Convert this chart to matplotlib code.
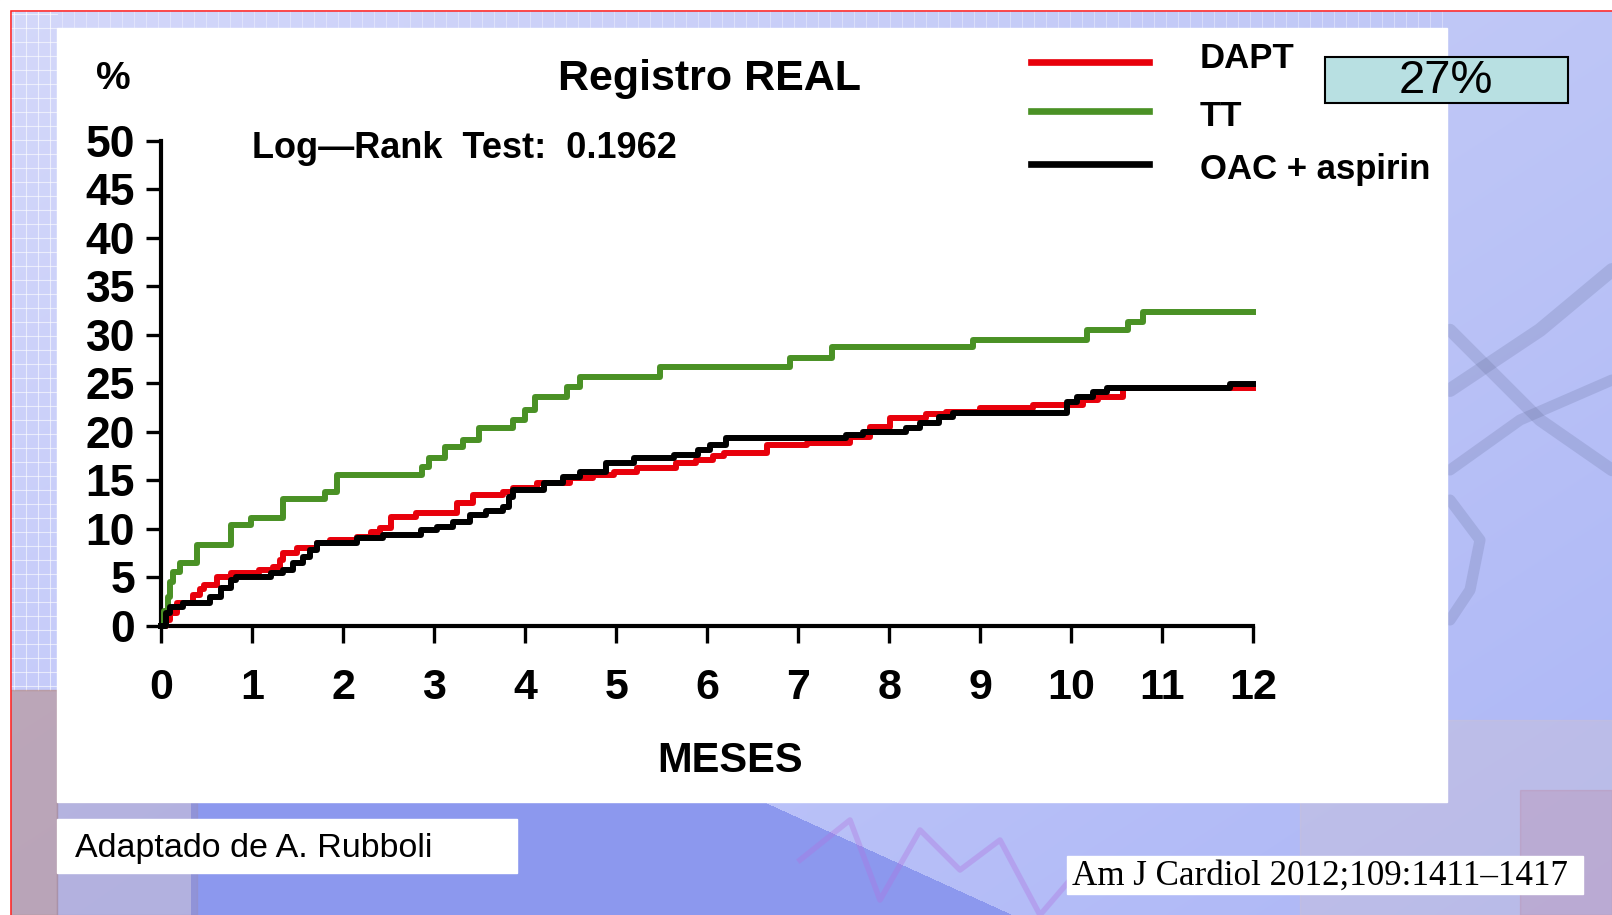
import matplotlib
matplotlib.use("Agg")
import matplotlib.pyplot as plt
import numpy as np
from matplotlib.patches import Rectangle

plt.rcParams['font.family'] = ['Liberation Sans', 'DejaVu Sans']

W, H = 1612, 915

months = list(range(13))
y_ticks = list(range(0, 55, 5))

# cumulative events (%)
tt_t = [0, 0.03, 0.07, 0.1, 0.13, 0.2, 0.39, 0.76, 0.98, 1.34, 1.8, 1.93, 2.87, 2.94,
        3.12, 3.32, 3.49, 3.87, 4.0, 4.11, 4.46, 4.6, 5.48, 6.91, 7.37, 8.92, 10.18,
        10.63, 10.79, 12.0]
tt_y = [0, 1.5, 3.0, 4.5, 5.6, 6.5, 8.3, 10.4, 11.1, 13.1, 13.8, 15.6, 16.4, 17.3,
        18.4, 19.2, 20.4, 21.2, 22.3, 23.6, 24.6, 25.7, 26.7, 27.6, 28.7, 29.5, 30.5,
        31.3, 32.4, 32.4]

dapt_t = [0, 0.05, 0.1, 0.17, 0.35, 0.42, 0.47, 0.61, 0.76, 1.07, 1.23, 1.3, 1.34,
          1.49, 1.71, 1.85, 2.15, 2.3, 2.4, 2.52, 2.8, 3.25, 3.43, 3.76, 3.87, 4.13,
          4.49, 4.75, 4.97, 5.23, 5.66, 5.88, 6.06, 6.18, 6.66, 7.1, 7.57, 7.79, 8.01,
          8.41, 8.63, 9.0, 9.58, 10.13, 10.3, 10.57, 12.0]
dapt_y = [0, 0.6, 1.3, 2.4, 3.2, 3.8, 4.2, 5.1, 5.5, 5.8, 6.1, 6.8, 7.5, 8.0, 8.6,
          8.9, 9.2, 9.7, 10.1, 11.2, 11.6, 12.7, 13.5, 13.8, 14.2, 14.7, 15.3, 15.6,
          15.9, 16.3, 16.8, 17.1, 17.5, 17.8, 18.7, 18.9, 19.5, 20.5, 21.4, 21.8, 22.1,
          22.5, 22.8, 23.3, 23.6, 24.5, 24.5]

oac_t = [0, 0.05, 0.1, 0.24, 0.53, 0.65, 0.76, 0.82, 1.2, 1.34, 1.45, 1.56, 1.63,
         1.71, 2.15, 2.44, 2.85, 3.03, 3.21, 3.39, 3.57, 3.76, 3.82, 3.87, 4.21, 4.42,
         4.6, 4.89, 5.19, 5.63, 5.9, 6.03, 6.21, 7.53, 7.71, 8.19, 8.34, 8.55, 8.7,
         9.95, 10.06, 10.24, 10.4, 11.75, 12.0]
oac_y = [0, 1.3, 2.0, 2.4, 3.0, 3.9, 4.7, 5.1, 5.5, 5.8, 6.5, 7.1, 7.8, 8.6, 9.1,
         9.4, 9.9, 10.2, 10.7, 11.4, 11.8, 12.3, 13.3, 14.0, 14.7, 15.4, 15.9, 16.8,
         17.3, 17.6, 18.1, 18.7, 19.4, 19.7, 20.0, 20.4, 20.9, 21.5, 22.0, 23.1, 23.6,
         24.1, 24.5, 24.9, 24.9]

RED = '#e8000b'
GREEN = '#4a9125'
BLACK = '#000000'

fig = plt.figure(figsize=(W / 100, H / 100), dpi=100)

# slide background, drawn in pixel coordinates
bg = fig.add_axes([0, 0, 1, 1])
bg.set_xlim(0, W)
bg.set_ylim(H, 0)
bg.axis('off')

yy, xx = np.mgrid[0:H, 0:W].astype(float)
img = np.zeros((H, W, 3))
img[..., 0] = 212 - 22 * (xx / W) - 18 * (yy / H)
img[..., 1] = 216 - 18 * (xx / W) - 16 * (yy / H)
img[..., 2] = 250 - 4 * (xx / W)
# blue diagonal band at the bottom
band = (yy > 800) & (xx > 190) & (xx < 760 + (yy - 800) * 2.2)
img[band, 0] = 140
img[band, 1] = 152
img[band, 2] = 238
img = np.clip(img, 0, 255) / 255.0
bg.imshow(img, extent=[0, W, H, 0], aspect='auto', zorder=0)

# left and top grid strip
for gx in range(14, 60, 12):
    bg.plot([gx, gx], [10, 690], color='white', lw=0.8, alpha=0.6, zorder=1)
for gy in range(14, 690, 14):
    bg.plot([10, 57], [gy, gy], color='white', lw=0.8, alpha=0.6, zorder=1)
for gx in range(14, 1450, 12):
    bg.plot([gx, gx], [10, 28], color='white', lw=0.6, alpha=0.4, zorder=1)
bg.add_patch(Rectangle((10, 690), 47, 225, color='#b07a6a', alpha=0.45, zorder=1))
bg.add_patch(Rectangle((57, 802), 140, 113, color='#9a8ab0', alpha=0.35, zorder=1))
bg.add_patch(Rectangle((1300, 720), 312, 195, color='#e0c8c0', alpha=0.25, zorder=1))
bg.add_patch(Rectangle((1520, 790), 92, 125, color='#c05060', alpha=0.15, zorder=1))

# stethoscope shadows on the right
steth = dict(color='#5a6490', alpha=0.2, solid_capstyle='round', zorder=1)
bg.plot([1612, 1540, 1450], [270, 330, 390], lw=10, **steth)
bg.plot([1450, 1540, 1612], [330, 420, 470], lw=9, **steth)
bg.plot([1450, 1520, 1612], [470, 420, 380], lw=8, **steth)
bg.plot([1450, 1480, 1470, 1450], [500, 540, 590, 620], lw=8, **steth)
# purple ecg trace at the bottom
bg.plot([800, 850, 880, 920, 960, 1000, 1040, 1070], [860, 820, 900, 830, 870, 840, 915, 880],
        color='#b070e0', lw=4, alpha=0.35, zorder=1)

# red frame
bg.plot([10, W], [10, 10], color='#ff2020', lw=1.8, zorder=2)
bg.plot([10, 10], [10, H], color='#ff2020', lw=1.8, zorder=2)
bg.add_patch(Rectangle((0, 0), W, 9, color='white', zorder=2))
bg.add_patch(Rectangle((0, 0), 9, H, color='white', zorder=2))

# white chart panel
bg.add_patch(Rectangle((57, 28), 1390, 774, color='white', zorder=3))

# chart
ax = fig.add_axes([161.4 / W, 1 - 626 / H, (1253 - 161.4) / W, (626 - 140.8) / H])
ax.set_facecolor('none')
ax.step(dapt_t, dapt_y, where='post', color=RED, lw=4.3, clip_on=False, zorder=3)
ax.step(oac_t, oac_y, where='post', color=BLACK, lw=4.3, clip_on=False, zorder=4)
ax.step(tt_t, tt_y, where='post', color=GREEN, lw=4.3, clip_on=False, zorder=3)
ax.set_xlim(0, 12)
ax.set_ylim(0, 50)
ax.set_xticks(months)
ax.set_yticks(y_ticks)
for s in ['top', 'right']:
    ax.spines[s].set_visible(False)
for s in ['left', 'bottom']:
    ax.spines[s].set_linewidth(3)
ax.tick_params(axis='y', length=11, width=2.4, labelsize=32, pad=8)
ax.tick_params(axis='x', length=12, width=2.4, labelsize=31, pad=18)
for lab in ax.get_xticklabels() + ax.get_yticklabels():
    lab.set_fontweight('bold')

# texts on the panel
bg.text(113, 79, '%', fontsize=28, fontweight='bold', ha='center', va='center', zorder=5)
bg.text(709, 79, 'Registro REAL', fontsize=31, fontweight='bold', ha='center',
        va='center', zorder=5)
bg.text(252, 149, 'Log\u2014Rank  Test:  0.1962', fontsize=26, fontweight='bold',
        ha='left', va='center', zorder=5)
bg.text(730, 761, 'MESES', fontsize=30, fontweight='bold', ha='center', va='center',
        zorder=5)

# legend
legend_names = ['DAPT', 'TT', 'OAC + aspirin']
legend_cols = [RED, GREEN, BLACK]
legend_line_y = [62, 111, 164]
legend_text_y = [59, 116, 170]
for name, col, ly, ty in zip(legend_names, legend_cols, legend_line_y, legend_text_y):
    bg.plot([1031, 1149], [ly, ly], color=col, lw=4.8, zorder=5)
    bg.text(1200, ty, name, fontsize=25, fontweight='bold', ha='left', va='center',
            zorder=5)

# 27% box
bg.add_patch(Rectangle((1325, 57), 243, 46, facecolor='#b8e0e2', edgecolor='black',
                       lw=1.5, zorder=6))
bg.text(1446, 81, '27%', fontsize=34, ha='center', va='center', zorder=7)

# source boxes
bg.add_patch(Rectangle((57, 819), 460, 54, color='white', zorder=5))
bg.text(75, 848, 'Adaptado de A. Rubboli', fontsize=24.5, ha='left', va='center', zorder=6)
bg.add_patch(Rectangle((1067, 856), 516, 38, color='white', zorder=5))
bg.text(1072, 876, 'Am J Cardiol 2012;109:1411\u20131417', fontsize=25.2,
        family=['Liberation Serif', 'DejaVu Serif'], ha='left', va='center', zorder=6)

fig.savefig('out.png', dpi=100)
